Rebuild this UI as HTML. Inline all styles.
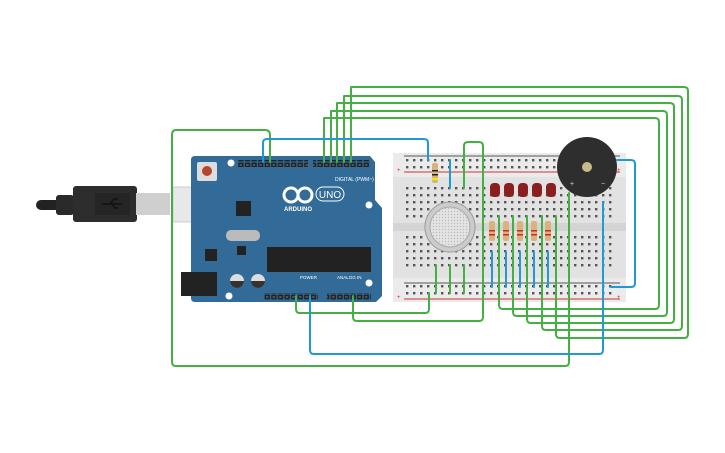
<!DOCTYPE html>
<html><head><meta charset="utf-8"><style>
html,body{margin:0;padding:0;background:#fff;width:725px;height:453px;overflow:hidden}
svg{display:block}
</style></head><body>
<svg width="725" height="453" viewBox="0 0 725 453" xmlns="http://www.w3.org/2000/svg" font-family="Liberation Sans, sans-serif">
<defs>
<pattern id="holes" x="404" y="185" width="7" height="7" patternUnits="userSpaceOnUse"><rect x="2" y="2" width="2.4" height="2.4" fill="#555"/></pattern>
<pattern id="rail" x="404" y="157" width="7" height="7" patternUnits="userSpaceOnUse"><rect x="2" y="2" width="2.4" height="2.4" fill="#555"/></pattern>
<pattern id="hdr" x="0" y="0" width="6.6" height="6" patternUnits="userSpaceOnUse"><rect x="0.6" y="0.6" width="5.4" height="4.8" fill="#222"/><rect x="2" y="2" width="2.4" height="2" fill="#555"/></pattern>
<pattern id="mesh" width="3" height="3" patternUnits="userSpaceOnUse"><rect width="3" height="3" fill="#e4e4e4"/><circle cx="1.5" cy="1.5" r="0.7" fill="#bbb"/></pattern>
</defs>

<!-- USB cable -->
<rect x="36" y="200" width="40" height="10" rx="5" fill="#222"/>
<rect x="56" y="195" width="18" height="20" rx="3" fill="#2a2a2a"/>
<rect x="73" y="186" width="64" height="36" rx="3" fill="#2d2d2d"/>
<rect x="95" y="193" width="35" height="22" fill="#252525"/>
<path d="M102 204 H122 M110 204 L114 199 H118 M112 204 L115 208 H118" stroke="#111" stroke-width="1.5" fill="none"/>
<rect x="136" y="193" width="34" height="22" fill="#cfcfcf"/>
<rect x="173" y="187" width="45" height="35" fill="#e8e8e8" stroke="#ccc"/>

<!-- Breadboard -->
<rect x="393" y="153" width="233" height="149" rx="2" fill="#e2e2e2"/>
<rect x="393" y="153" width="233" height="24" fill="#ebebeb"/>
<rect x="393" y="278" width="233" height="24" fill="#ebebeb"/>
<rect x="393" y="223" width="233" height="8" fill="#d4d4d4"/>
<line x1="404" y1="156" x2="620" y2="156" stroke="#555" stroke-width="1"/>
<line x1="404" y1="172" x2="620" y2="172" stroke="#c33" stroke-width="1"/>
<line x1="404" y1="283" x2="620" y2="283" stroke="#555" stroke-width="1"/>
<line x1="404" y1="299" x2="620" y2="299" stroke="#c33" stroke-width="1"/>
<rect x="404" y="157" width="210" height="14" fill="url(#rail)"/>
<rect x="404" y="284" width="210" height="14" fill="url(#rail)"/>
<rect x="404" y="185" width="210" height="35" fill="url(#holes)"/>
<rect x="404" y="234" width="210" height="35" fill="url(#holes)"/>
<g font-size="6" fill="#c33"><text x="397" y="172">+</text><text x="617" y="172">+</text><text x="397" y="299">+</text><text x="617" y="299">+</text></g>

<!-- Arduino -->
<path d="M195 156 H370 L375 162 V200 L382 208 V296 L376 302 H195 Q191 302 191 298 V160 Q191 156 195 156 Z" fill="#326b98"/>
<rect x="197" y="162" width="20" height="19" rx="2" fill="#ddd"/>
<circle cx="207" cy="171" r="5" fill="#b5452e"/>
<rect x="237" y="160" width="71" height="7" fill="url(#hdr)"/>
<rect x="313" y="160" width="57" height="7" fill="url(#hdr)"/>
<rect x="264" y="293" width="54" height="7" fill="url(#hdr)"/>
<rect x="327" y="293" width="44" height="7" fill="url(#hdr)"/>
<text x="335" y="181" font-size="5" fill="#fff">DIGITAL (PWM~)</text>
<circle cx="291" cy="195" r="7" fill="none" stroke="#fff" stroke-width="3"/>
<circle cx="305" cy="195" r="7" fill="none" stroke="#fff" stroke-width="3"/>
<text x="298" y="211" font-size="6" fill="#fff" font-weight="bold" text-anchor="middle">ARDUINO</text>
<rect x="316" y="187" width="28" height="14" rx="7" fill="none" stroke="#fff"/>
<text x="330" y="198" font-size="10" fill="#fff" text-anchor="middle">UNO</text>
<rect x="236" y="201" width="15" height="15" fill="#222"/>
<rect x="226" y="230" width="34" height="11" rx="5" fill="#bbb"/>
<rect x="237" y="246" width="9" height="9" fill="#222"/>
<rect x="205" y="249" width="12" height="12" fill="#222"/>
<rect x="267" y="247" width="104" height="25" fill="#222"/>
<rect x="181" y="272" width="36" height="24" fill="#222"/>
<circle cx="237" cy="281" r="7" fill="#ddd"/><path d="M230 281 A7 7 0 0 0 244 281 Z" fill="#333"/>
<circle cx="258" cy="281" r="7" fill="#ddd"/><path d="M251 281 A7 7 0 0 0 265 281 Z" fill="#333"/>
<text x="300" y="279" font-size="4.5" fill="#fff">POWER</text>
<text x="337" y="279" font-size="4.5" fill="#fff">ANALOG IN</text>
<circle cx="231" cy="163" r="3.5" fill="#fff"/><circle cx="369" cy="205" r="3.5" fill="#fff"/><circle cx="369" cy="283" r="3.5" fill="#fff"/><circle cx="229" cy="296" r="3.5" fill="#fff"/>

<!-- components on breadboard -->
<rect x="432" y="163" width="6" height="20" rx="2" fill="#d8b47a"/>
<rect x="432" y="170" width="6" height="1.5" fill="#222"/><rect x="432" y="174" width="6" height="1.5" fill="#222"/><rect x="432" y="178" width="6" height="2" fill="#ee0"/>
<g fill="#8a1f1f">
<rect x="490" y="183" width="10" height="14" rx="4"/><rect x="504" y="183" width="10" height="14" rx="4"/><rect x="518" y="183" width="10" height="14" rx="4"/><rect x="532" y="183" width="10" height="14" rx="4"/><rect x="546" y="183" width="10" height="14" rx="4"/>
</g>
<g fill="#d8b47a">
<rect x="489" y="221" width="6" height="20" rx="2"/><rect x="503" y="221" width="6" height="20" rx="2"/><rect x="517" y="221" width="6" height="20" rx="2"/><rect x="531" y="221" width="6" height="20" rx="2"/><rect x="545" y="221" width="6" height="20" rx="2"/>
</g>
<g fill="#d22">
<rect x="489" y="230" width="6" height="1.5"/><rect x="489" y="234" width="6" height="1.5"/><rect x="503" y="230" width="6" height="1.5"/><rect x="503" y="234" width="6" height="1.5"/><rect x="517" y="230" width="6" height="1.5"/><rect x="517" y="234" width="6" height="1.5"/><rect x="531" y="230" width="6" height="1.5"/><rect x="531" y="234" width="6" height="1.5"/><rect x="545" y="230" width="6" height="1.5"/><rect x="545" y="234" width="6" height="1.5"/>
</g>
<circle cx="450" cy="227" r="25" fill="#ccc" stroke="#999"/>
<circle cx="450" cy="227" r="20" fill="url(#mesh)" stroke="#aaa"/>
<circle cx="587" cy="167" r="30" fill="#2e2e2e"/>
<circle cx="587" cy="167" r="5" fill="#c9b98a"/>
<text x="570" y="186" font-size="7" fill="#ddd">+</text><text x="601" y="186" font-size="7" fill="#ddd">−</text>

<!-- wires -->
<g fill="none" stroke-width="2" stroke-linejoin="round" stroke-linecap="round">
<g stroke="#44b044">
<path d="M324 162 V118 H655 Q659 118 659 122 V305 Q659 309 655 309 H503 Q499 309 499 305 V216"/>
<path d="M331 162 V111 H663 Q667 111 667 115 V312 Q667 316 663 316 H517 Q513 316 513 312 V216"/>
<path d="M337 162 V103 H670 Q674 103 674 107 V319 Q674 323 670 323 H531 Q527 323 527 319 V216"/>
<path d="M344 162 V96 H678 Q682 96 682 100 V326 Q682 330 678 330 H546 Q542 330 542 326 V216"/>
<path d="M351 162 V87 H684 Q688 87 688 91 V334 Q688 338 684 338 H560 Q556 338 556 334 V216"/>
<path d="M270 162 V135 Q270 130 265 130 H176 Q172 130 172 135 V362 Q172 366 176 366 H565 Q569 366 569 362 V193"/>
<path d="M296 296 V309 Q296 313 300 313 H425 Q429 313 429 309 V293"/>
<path d="M353 296 V317 Q353 321 357 321 H479 Q483 321 483 317 V146 Q483 142 479 142 H468 Q464 142 464 146 V188"/>
<path d="M436 265 V293 M450 265 V293 M464 265 V293"/>
</g>
<g stroke="#1f9ad6">
<path d="M263 162 V143 Q263 139 267 139 H424 Q428 139 428 143 V160"/>
<path d="M310 296 V350 Q310 354 314 354 H599 Q603 354 603 350 V202"/>
<path d="M617 160 H631 Q635 160 635 164 V283 Q635 287 631 287 H611"/>
<path d="M450 160 V188"/>
<path d="M492 252 V287 M506 252 V287 M520 252 V287 M534 252 V287 M548 252 V287"/>
</g>
</g>
</svg>
</body></html>
